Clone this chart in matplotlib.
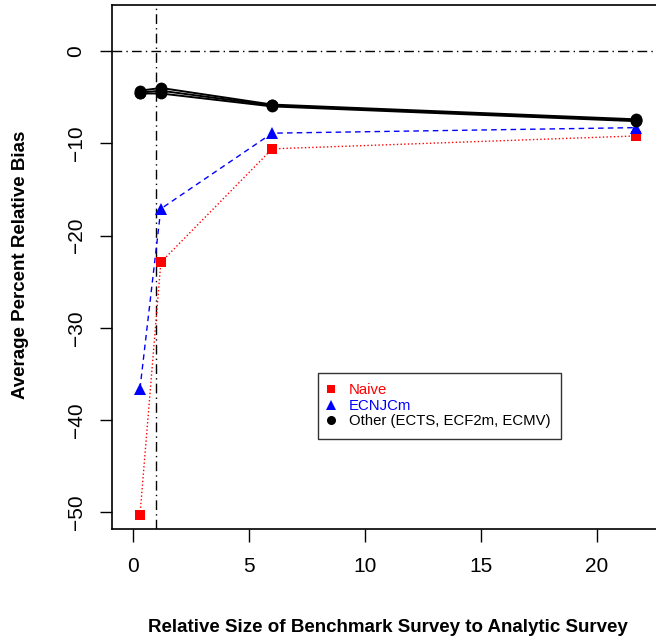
import matplotlib
matplotlib.use("Agg")
import matplotlib.pyplot as plt
from matplotlib.lines import Line2D

plt.rcParams['font.family'] = ['Liberation Sans', 'DejaVu Sans']

# relative size of benchmark survey to analytic survey
sizes = [0.3, 1.2, 6.0, 21.7]

naive = [-50.3, -22.9, -10.6, -9.2]
ecnjcm = [-36.6, -17.1, -8.9, -8.3]
# ECTS, ECF2m, ECMV
ects = [-4.3, -4.0, -5.8, -7.4]
ecf2m = [-4.5, -4.3, -5.9, -7.5]
ecmv = [-4.6, -4.6, -6.0, -7.6]

xticks = [0, 5, 10, 15, 20]
yticks = [0, -10, -20, -30, -40, -50]

fig = plt.figure(figsize=(6.56, 6.42), dpi=100)
ax = fig.add_axes([112 / 656, 1 - 529 / 642, (690 - 112) / 656, (529 - 5) / 642])

# reference lines
ax.axhline(0, color='black', lw=1, ls='-.', dashes=(7, 3, 1, 3))
ax.axvline(1, color='black', lw=1, ls='-.', dashes=(7, 3, 1, 3))

ax.plot(sizes, naive, color='red', ls=':', lw=1, marker='s', ms=7,
        markeredgewidth=0)
ax.plot(sizes, ecnjcm, color='blue', ls='--', lw=1, dashes=(4, 3),
        marker='^', ms=8, markeredgewidth=0)
for other in [ects, ecf2m, ecmv]:
    ax.plot(sizes, other, color='black', lw=1.4, marker='o', ms=8.5,
            markeredgewidth=0)

ax.set_xlim(-0.905, (690 - 133) / 23.2)
ax.set_ylim(-51.8, 4.99)
ax.set_xticks(xticks)
ax.set_yticks(yticks)
ax.tick_params(direction='out', length=9, width=1, labelsize=15)
ax.tick_params(axis='x', pad=11)
ax.tick_params(axis='y', pad=10)
for lab in ax.get_yticklabels():
    lab.set_rotation(90)
    lab.set_va('center')
for s in ax.spines.values():
    s.set_linewidth(1.2)

fig.text(388 / 656, 1 - 627 / 642,
         'Relative Size of Benchmark Survey to Analytic Survey',
         ha='center', va='center', fontsize=13.5, fontweight='bold')
fig.text(21 / 656, 1 - 265 / 642, 'Average Percent Relative Bias',
         ha='center', va='center', rotation=90, fontsize=13.5, fontweight='bold')

handles = [
    Line2D([], [], ls='none', marker='s', color='red', ms=6, markeredgewidth=0),
    Line2D([], [], ls='none', marker='^', color='blue', ms=6.5, markeredgewidth=0),
    Line2D([], [], ls='none', marker='o', color='black', ms=6.5, markeredgewidth=0),
]
leg = fig.legend(handles, ['Naive', 'ECNJCm', 'Other (ECTS, ECF2m, ECMV)'],
                 loc='upper left', bbox_to_anchor=(318 / 656, 1 - 373 / 642),
                 fontsize=10.7, frameon=True, fancybox=False, handlelength=0.35,
                 handletextpad=1.03, labelspacing=0.1, borderpad=0.7,
                 borderaxespad=0)
leg.get_frame().set_edgecolor('black')
leg.get_frame().set_linewidth(1)
for txt, c in zip(leg.get_texts(), ['red', 'blue', 'black']):
    txt.set_color(c)

fig.savefig('out.png', dpi=100)
